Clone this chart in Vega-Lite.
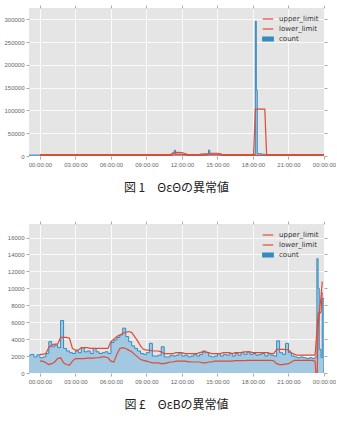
{
  "$schema": "https://vega.github.io/schema/vega-lite/v6.json",
  "padding": {"left": 3, "top": 4, "right": 0, "bottom": 4},
  "background": "white",
  "spacing": 26,
  "config": {
    "view": {"fill": "#E5E5E5", "stroke": null},
    "axis": {"labelFontSize": 6, "labelColor": "#666", "labelFont": "Liberation Sans", "tickColor": "#aaa", "tickSize": 3, "domain": false, "gridColor": "#ffffff", "gridWidth": 0.8, "title": null, "labelPadding": 2, "labelOverlap": false, "labelFlush": false, "format": "d"},
    "legend": {"orient": "top-right", "offset": 5, "title": null, "labelFontSize": 7, "labelFont": "DejaVu Sans", "labelColor": "#333", "symbolType": "stroke", "symbolSize": 110, "rowPadding": 1, "labelOffset": 5},
    "title": {"orient": "bottom", "fontSize": 12, "font": "Noto Sans CJK JP", "fontWeight": "normal", "color": "#222", "offset": 16, "anchor": "middle"}
  },
  "datasets": {
    "top": [
      {"t": -0.92, "count": 2000, "upper": null, "lower": null},
      {"t": 0, "count": 2200, "upper": 3000, "lower": 1500},
      {"t": 1, "count": 2500, "upper": 3000, "lower": 1500},
      {"t": 2, "count": 2400, "upper": 3000, "lower": 1500},
      {"t": 3, "count": 2500, "upper": 3000, "lower": 1500},
      {"t": 4, "count": 2400, "upper": 3000, "lower": 1500},
      {"t": 5, "count": 2500, "upper": 3000, "lower": 1500},
      {"t": 6, "count": 2600, "upper": 3000, "lower": 1500},
      {"t": 7, "count": 2500, "upper": 3000, "lower": 1500},
      {"t": 8, "count": 2400, "upper": 3000, "lower": 1500},
      {"t": 9, "count": 2500, "upper": 3000, "lower": 1500},
      {"t": 10, "count": 2400, "upper": 3000, "lower": 1500},
      {"t": 11, "count": 3000, "upper": 3200, "lower": 1500},
      {"t": 11.2, "count": 7000, "upper": 5500, "lower": 2000},
      {"t": 11.35, "count": 12600, "upper": 7500, "lower": 2500},
      {"t": 11.45, "count": 4000, "upper": 8000, "lower": 2500},
      {"t": 12.0, "count": 3500, "upper": 7500, "lower": 2500},
      {"t": 12.3, "count": 3000, "upper": 5000, "lower": 2000},
      {"t": 12.5, "count": 2500, "upper": 3000, "lower": 1500},
      {"t": 13.0, "count": 2500, "upper": 3000, "lower": 1500},
      {"t": 13.5, "count": 3500, "upper": 3500, "lower": 1500},
      {"t": 14.25, "count": 13000, "upper": 5500, "lower": 2000},
      {"t": 14.35, "count": 4000, "upper": 6000, "lower": 2500},
      {"t": 15.0, "count": 3500, "upper": 6000, "lower": 2500},
      {"t": 15.25, "count": 3000, "upper": 5000, "lower": 2000},
      {"t": 15.4, "count": 2500, "upper": 3000, "lower": 1500},
      {"t": 16, "count": 2500, "upper": 3000, "lower": 1500},
      {"t": 17, "count": 2500, "upper": 3000, "lower": 1500},
      {"t": 18.05, "count": 3000, "upper": 3000, "lower": 1500},
      {"t": 18.2, "count": 296000, "upper": 103000, "lower": 1500},
      {"t": 18.28, "count": 145000, "upper": 103000, "lower": 1500},
      {"t": 18.36, "count": 5000, "upper": 103000, "lower": 1500},
      {"t": 18.7, "count": 4000, "upper": 103000, "lower": 1500},
      {"t": 19.0, "count": 3000, "upper": 103000, "lower": 1500},
      {"t": 19.15, "count": 2500, "upper": 3000, "lower": 1500},
      {"t": 20, "count": 2500, "upper": 3000, "lower": 1500},
      {"t": 21, "count": 2400, "upper": 3000, "lower": 1500},
      {"t": 22, "count": 2500, "upper": 3000, "lower": 1500},
      {"t": 23, "count": 2400, "upper": 3000, "lower": 1500},
      {"t": 24, "count": 2400, "upper": 3000, "lower": 1500}
    ],
    "bottom": [
      {"t": -0.92, "count": 2100, "upper": null, "lower": null},
      {"t": -0.75, "count": 2200, "upper": null, "lower": null},
      {"t": -0.5, "count": 1900, "upper": null, "lower": null},
      {"t": -0.25, "count": 2150, "upper": null, "lower": null},
      {"t": 0.0, "count": 1800, "upper": 2200, "lower": 1400},
      {"t": 0.25, "count": 1900, "upper": 2200, "lower": 1400},
      {"t": 0.5, "count": 2300, "upper": 2300, "lower": 1200},
      {"t": 0.75, "count": 3700, "upper": 3000, "lower": 1000},
      {"t": 1.0, "count": 3100, "upper": 3300, "lower": 1100},
      {"t": 1.25, "count": 3300, "upper": 3400, "lower": 1300},
      {"t": 1.5, "count": 3000, "upper": 3400, "lower": 1700},
      {"t": 1.75, "count": 6200, "upper": 4200, "lower": 1800},
      {"t": 2.0, "count": 2900, "upper": 4200, "lower": 1200},
      {"t": 2.25, "count": 2600, "upper": 4200, "lower": 1000},
      {"t": 2.5, "count": 2400, "upper": 4100, "lower": 900},
      {"t": 2.75, "count": 2300, "upper": 2900, "lower": 1400},
      {"t": 3.0, "count": 2600, "upper": 2700, "lower": 1700},
      {"t": 3.25, "count": 2400, "upper": 2700, "lower": 1700},
      {"t": 3.5, "count": 3000, "upper": 3000, "lower": 1700},
      {"t": 3.75, "count": 2500, "upper": 3000, "lower": 1700},
      {"t": 4.0, "count": 2600, "upper": 3000, "lower": 1750},
      {"t": 4.25, "count": 2300, "upper": 2900, "lower": 1750},
      {"t": 4.5, "count": 2900, "upper": 2900, "lower": 1750},
      {"t": 4.75, "count": 2500, "upper": 2900, "lower": 1800},
      {"t": 5.0, "count": 2300, "upper": 2900, "lower": 1800},
      {"t": 5.25, "count": 2400, "upper": 2900, "lower": 1900},
      {"t": 5.5, "count": 2500, "upper": 2900, "lower": 1900},
      {"t": 5.75, "count": 2300, "upper": 2900, "lower": 1800},
      {"t": 6.0, "count": 3600, "upper": 3700, "lower": 1400},
      {"t": 6.25, "count": 3900, "upper": 4000, "lower": 1300},
      {"t": 6.5, "count": 4200, "upper": 4300, "lower": 2200},
      {"t": 6.75, "count": 4500, "upper": 4500, "lower": 2900},
      {"t": 7.0, "count": 5300, "upper": 4700, "lower": 3000},
      {"t": 7.25, "count": 4300, "upper": 4800, "lower": 2900},
      {"t": 7.5, "count": 3700, "upper": 4900, "lower": 2700},
      {"t": 7.75, "count": 3200, "upper": 4800, "lower": 2500},
      {"t": 8.0, "count": 2900, "upper": 4300, "lower": 2200},
      {"t": 8.25, "count": 2600, "upper": 3800, "lower": 1900},
      {"t": 8.5, "count": 2300, "upper": 3200, "lower": 1600},
      {"t": 8.75, "count": 2200, "upper": 2800, "lower": 1500},
      {"t": 9.0, "count": 2400, "upper": 2700, "lower": 1400},
      {"t": 9.25, "count": 3500, "upper": 2700, "lower": 1300},
      {"t": 9.5, "count": 2000, "upper": 2600, "lower": 1200},
      {"t": 9.75, "count": 2000, "upper": 2600, "lower": 1200},
      {"t": 10.0, "count": 2100, "upper": 2600, "lower": 1200},
      {"t": 10.25, "count": 3100, "upper": 2500, "lower": 1100},
      {"t": 10.5, "count": 1900, "upper": 2300, "lower": 1100},
      {"t": 10.75, "count": 1900, "upper": 2300, "lower": 1200},
      {"t": 11.0, "count": 2100, "upper": 2300, "lower": 1300},
      {"t": 11.25, "count": 2000, "upper": 2300, "lower": 1300},
      {"t": 11.5, "count": 2100, "upper": 2400, "lower": 1400},
      {"t": 11.75, "count": 2400, "upper": 2400, "lower": 1400},
      {"t": 12.0, "count": 2000, "upper": 2400, "lower": 1400},
      {"t": 12.25, "count": 2100, "upper": 2300, "lower": 1400},
      {"t": 12.5, "count": 1900, "upper": 2300, "lower": 1350},
      {"t": 12.75, "count": 2000, "upper": 2300, "lower": 1300},
      {"t": 13.0, "count": 2200, "upper": 2300, "lower": 1300},
      {"t": 13.25, "count": 2000, "upper": 2300, "lower": 1300},
      {"t": 13.5, "count": 2200, "upper": 2400, "lower": 1300},
      {"t": 13.75, "count": 2600, "upper": 2500, "lower": 1200},
      {"t": 14.0, "count": 2400, "upper": 2500, "lower": 1200},
      {"t": 14.25, "count": 2000, "upper": 2400, "lower": 1300},
      {"t": 14.5, "count": 1900, "upper": 2300, "lower": 1300},
      {"t": 14.75, "count": 2000, "upper": 2300, "lower": 1400},
      {"t": 15.0, "count": 2300, "upper": 2300, "lower": 1400},
      {"t": 15.25, "count": 2000, "upper": 2300, "lower": 1400},
      {"t": 15.5, "count": 2200, "upper": 2400, "lower": 1400},
      {"t": 15.75, "count": 2100, "upper": 2400, "lower": 1400},
      {"t": 16.0, "count": 2300, "upper": 2400, "lower": 1400},
      {"t": 16.25, "count": 2000, "upper": 2300, "lower": 1400},
      {"t": 16.5, "count": 2300, "upper": 2400, "lower": 1450},
      {"t": 16.75, "count": 2100, "upper": 2400, "lower": 1450},
      {"t": 17.0, "count": 2400, "upper": 2400, "lower": 1450},
      {"t": 17.25, "count": 2200, "upper": 2500, "lower": 1450},
      {"t": 17.5, "count": 2500, "upper": 2500, "lower": 1500},
      {"t": 17.75, "count": 2200, "upper": 2500, "lower": 1500},
      {"t": 18.0, "count": 2300, "upper": 2400, "lower": 1500},
      {"t": 18.25, "count": 2100, "upper": 2400, "lower": 1500},
      {"t": 18.5, "count": 2200, "upper": 2400, "lower": 1500},
      {"t": 18.75, "count": 2300, "upper": 2400, "lower": 1500},
      {"t": 19.0, "count": 2000, "upper": 2400, "lower": 1500},
      {"t": 19.25, "count": 2300, "upper": 2400, "lower": 1500},
      {"t": 19.5, "count": 2100, "upper": 2300, "lower": 1500},
      {"t": 19.75, "count": 2000, "upper": 2300, "lower": 1450},
      {"t": 20.0, "count": 3800, "upper": 2800, "lower": 1100},
      {"t": 20.25, "count": 2400, "upper": 2800, "lower": 1000},
      {"t": 20.5, "count": 2200, "upper": 2800, "lower": 1000},
      {"t": 20.75, "count": 3500, "upper": 2800, "lower": 1050},
      {"t": 21.0, "count": 2400, "upper": 2700, "lower": 1100},
      {"t": 21.25, "count": 2000, "upper": 2400, "lower": 1300},
      {"t": 21.5, "count": 1900, "upper": 2200, "lower": 1500},
      {"t": 21.75, "count": 1800, "upper": 2100, "lower": 1500},
      {"t": 22.0, "count": 1900, "upper": 2100, "lower": 1500},
      {"t": 22.25, "count": 1800, "upper": 2100, "lower": 1500},
      {"t": 22.5, "count": 1700, "upper": 2100, "lower": 1500},
      {"t": 22.75, "count": 1800, "upper": 2100, "lower": 1500},
      {"t": 23.0, "count": 1700, "upper": 2100, "lower": 1500},
      {"t": 23.25, "count": 1900, "upper": 2100, "lower": 1400},
      {"t": 23.4, "count": 13500, "upper": 5000, "lower": -2000},
      {"t": 23.5, "count": 10000, "upper": 7000, "lower": 5500},
      {"t": 23.6, "count": 2800, "upper": 7200, "lower": 7000},
      {"t": 23.75, "count": 1800, "upper": 9000, "lower": 7200},
      {"t": 23.85, "count": 8800, "upper": 10800, "lower": 9500},
      {"t": 24.0, "count": 0, "upper": null, "lower": null}
    ]
  },
  "vconcat": [
    {
      "width": 295,
      "height": 148,
      "title": {"text": "図 1　ΘεΘの異常値"},
      "data": {"name": "top"},
      "resolve": {"axis": {"x": "independent", "y": "independent"}},
      "layer": [
        {
          "mark": {"type": "area", "interpolate": "step-after", "color": "#A3C8E2", "clip": true},
          "encoding": {
            "x": {"field": "t", "type": "quantitative", "scale": {"domain": [-0.92, 24], "nice": false, "zero": false}, "axis": {"values": [0, 3, 6, 9, 12, 15, 18, 21, 24], "labelExpr": "(datum.value % 24 < 10 ? '0' : '') + (datum.value % 24) + ':00:00'"}},
            "y": {"field": "count", "type": "quantitative", "scale": {"domain": [0, 325000], "nice": false}, "axis": {"values": [0, 50000, 100000, 150000, 200000, 250000, 300000]}}
          }
        },
        {
          "mark": {"type": "line", "interpolate": "step-after", "strokeWidth": 1, "clip": true},
          "encoding": {
            "x": {"field": "t", "type": "quantitative", "axis": null},
            "y": {"field": "count", "type": "quantitative", "axis": null},
            "color": {"datum": "count", "type": "nominal", "scale": {"domain": ["upper_limit", "lower_limit", "count"], "range": ["#E24A33", "#E24A33", "#348ABD"]}, "legend": {"encode": {"symbols": {"update": {"shape": {"signal": "datum.value === 'count' ? 'M-1,-0.38H1V0.38H-1Z' : 'stroke'"}, "fill": {"signal": "datum.value === 'count' ? '#348ABD' : 'transparent'"}, "strokeWidth": {"value": 1.2}}}}}}
          }
        },
        {
          "transform": [{"fold": ["upper", "lower"], "as": ["which", "val"]}],
          "mark": {"type": "line", "strokeWidth": 1.2, "clip": true},
          "encoding": {
            "x": {"field": "t", "type": "quantitative", "axis": null},
            "y": {"field": "val", "type": "quantitative", "axis": null},
            "detail": {"field": "which"},
            "color": {"datum": "upper_limit", "type": "nominal"}
          }
        },
        {
          "transform": [{"filter": "datum.t < -99"}],
          "mark": {"type": "line"},
          "encoding": {
            "x": {"field": "t", "type": "quantitative", "axis": {"orient": "top", "values": [0, 3, 6, 9, 12, 15, 18, 21, 24], "labels": false, "grid": false}},
            "y": {"field": "count", "type": "quantitative", "axis": {"orient": "right", "values": [0, 50000, 100000, 150000, 200000, 250000, 300000], "labels": false, "grid": false}},
            "color": {"datum": "lower_limit", "type": "nominal"}
          }
        }
      ]
    },
    {
      "width": 295,
      "height": 149,
      "title": {"text": "図 £　ΘεBの異常値"},
      "data": {"name": "bottom"},
      "resolve": {"axis": {"x": "independent", "y": "independent"}},
      "layer": [
        {
          "mark": {"type": "area", "interpolate": "step-after", "color": "#A3C8E2", "clip": true},
          "encoding": {
            "x": {"field": "t", "type": "quantitative", "scale": {"domain": [-0.92, 24], "nice": false, "zero": false}, "axis": {"values": [0, 3, 6, 9, 12, 15, 18, 21, 24], "labelExpr": "(datum.value % 24 < 10 ? '0' : '') + (datum.value % 24) + ':00:00'"}},
            "y": {"field": "count", "type": "quantitative", "scale": {"domain": [0, 17600], "nice": false}, "axis": {"values": [0, 2000, 4000, 6000, 8000, 10000, 12000, 14000, 16000]}}
          }
        },
        {
          "mark": {"type": "line", "interpolate": "step-after", "strokeWidth": 1, "clip": true},
          "encoding": {
            "x": {"field": "t", "type": "quantitative", "axis": null},
            "y": {"field": "count", "type": "quantitative", "axis": null},
            "color": {"datum": "count", "type": "nominal", "scale": {"domain": ["upper_limit", "lower_limit", "count"], "range": ["#E24A33", "#E24A33", "#348ABD"]}, "legend": {"encode": {"symbols": {"update": {"shape": {"signal": "datum.value === 'count' ? 'M-1,-0.38H1V0.38H-1Z' : 'stroke'"}, "fill": {"signal": "datum.value === 'count' ? '#348ABD' : 'transparent'"}, "strokeWidth": {"value": 1.2}}}}}}
          }
        },
        {
          "transform": [{"fold": ["upper", "lower"], "as": ["which", "val"]}],
          "mark": {"type": "line", "strokeWidth": 1.2, "clip": true},
          "encoding": {
            "x": {"field": "t", "type": "quantitative", "axis": null},
            "y": {"field": "val", "type": "quantitative", "axis": null},
            "detail": {"field": "which"},
            "color": {"datum": "upper_limit", "type": "nominal"}
          }
        },
        {
          "transform": [{"filter": "datum.t < -99"}],
          "mark": {"type": "line"},
          "encoding": {
            "x": {"field": "t", "type": "quantitative", "axis": {"orient": "top", "values": [0, 3, 6, 9, 12, 15, 18, 21, 24], "labels": false, "grid": false}},
            "y": {"field": "count", "type": "quantitative", "axis": {"orient": "right", "values": [0, 2000, 4000, 6000, 8000, 10000, 12000, 14000, 16000], "labels": false, "grid": false}},
            "color": {"datum": "lower_limit", "type": "nominal"}
          }
        }
      ]
    }
  ],
  "resolve": {"scale": {"color": "independent"}, "legend": {"color": "independent"}}
}
